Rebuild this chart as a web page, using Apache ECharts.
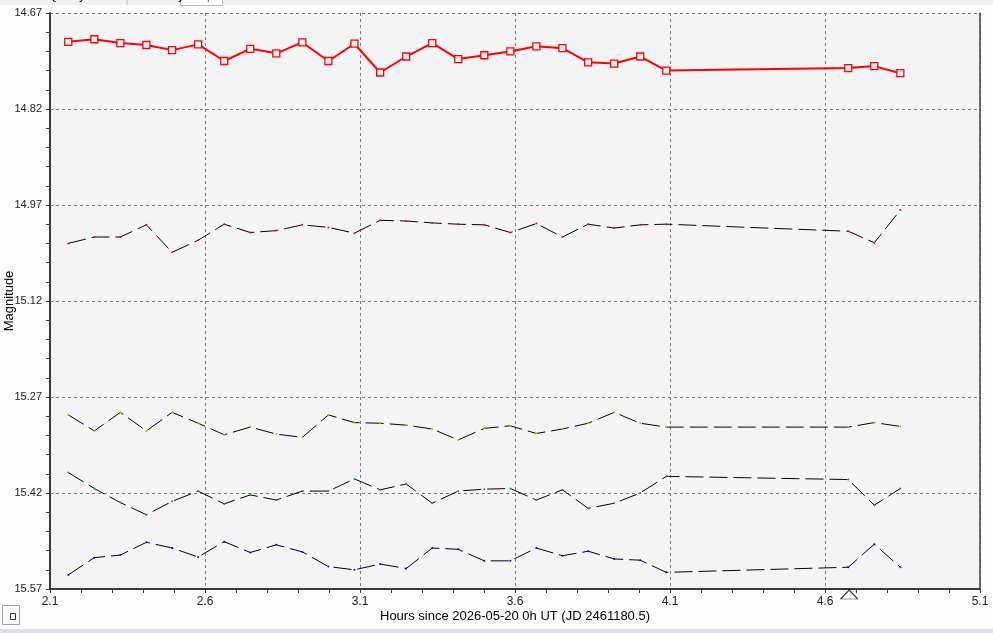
<!DOCTYPE html>
<html>
<head>
<meta charset="utf-8">
<script src="https://cdn.jsdelivr.net/npm/echarts@6/dist/echarts.min.js"></script>
<style>
html,body{margin:0;padding:0;background:#fcfcfc;}
#chart{width:993px;height:633px;}
</style>
</head>
<body>
<div id="chart"></div>
<script>
// Hours since 2026-05-20 0h UT
const times = [2.159, 2.243, 2.327, 2.411, 2.494, 2.578, 2.662, 2.746, 2.830, 2.914, 2.998, 3.082, 3.165, 3.249, 3.333, 3.417, 3.501, 3.585, 3.669, 3.753, 3.836, 3.920, 4.004, 4.088, 4.675, 4.759, 4.843];
// Target magnitudes (red)
const target = [14.715, 14.711, 14.717, 14.720, 14.728, 14.719, 14.745, 14.726, 14.733, 14.716, 14.745, 14.718, 14.763, 14.738, 14.717, 14.742, 14.736, 14.730, 14.722, 14.725, 14.747, 14.749, 14.738, 14.760, 14.756, 14.753, 14.764];
// Comparison / check star magnitudes
const comp1 = [15.030, 15.020, 15.020, 15.001, 15.044, 15.025, 15.000, 15.013, 15.010, 15.001, 15.005, 15.014, 14.994, 14.995, 14.998, 15.000, 15.001, 15.013, 14.999, 15.020, 15.000, 15.006, 15.001, 15.000, 15.011, 15.029, 14.978];
const comp2 = [15.298, 15.323, 15.294, 15.323, 15.294, 15.311, 15.329, 15.317, 15.328, 15.333, 15.298, 15.310, 15.311, 15.314, 15.320, 15.337, 15.319, 15.315, 15.327, 15.320, 15.311, 15.294, 15.311, 15.317, 15.317, 15.310, 15.316];
const comp3 = [15.388, 15.413, 15.435, 15.454, 15.433, 15.417, 15.437, 15.423, 15.431, 15.417, 15.417, 15.398, 15.415, 15.406, 15.436, 15.417, 15.414, 15.413, 15.431, 15.415, 15.444, 15.436, 15.420, 15.394, 15.399, 15.439, 15.413];
const comp4 = [15.548, 15.521, 15.517, 15.497, 15.506, 15.520, 15.496, 15.513, 15.501, 15.512, 15.535, 15.540, 15.531, 15.538, 15.506, 15.508, 15.526, 15.526, 15.506, 15.518, 15.511, 15.523, 15.525, 15.544, 15.536, 15.500, 15.536];
// Marker time (triangle under the axis)
const markerTimes = [4.678];

const xTicks = {min: 2.1, max: 5.1, interval: 0.5};
const yTicks = {min: 14.67, max: 15.57, interval: 0.15};
const xName = 'Hours since 2026-05-20 0h UT (JD 2461180.5)';
const yName = 'Magnitude';
const tabs = ['Select', 'Quality', 'Filter', 'Summary', 'Graph'];

const pair = arr => times.map((t, i) => [t, arr[i]]);

const FONT = 'Liberation Sans, Arial, sans-serif';
const compSeries = (data, dot) => ({
  type: 'line', data: pair(data), symbol: 'circle', symbolSize: 2,
  itemStyle: {color: dot}, lineStyle: {color: '#000', width: 1, type: [18, 6]},
  z: 2, animation: false
});

const chart = echarts.init(document.getElementById('chart'));
chart.setOption({
  backgroundColor: '#fcfcfc',
  animation: false,
  textStyle: {fontFamily: FONT},
  grid: {left: 50, right: 13, top: 13, bottom: 44, show: true, backgroundColor: '#f4f4f4', borderWidth: 0, containLabel: false, outerBoundsMode: 'none'},
  xAxis: {
    type: 'value', min: xTicks.min, max: xTicks.max, interval: xTicks.interval,
    name: xName, nameLocation: 'middle', nameGap: 21, nameMoveOverlap: false,
    nameTextStyle: {fontSize: 13, color: '#000', fontFamily: FONT},
    axisLine: {lineStyle: {color: '#3a3a3a', width: 2}},
    axisTick: {length: 4, lineStyle: {color: '#3a3a3a'}},
    minorTick: {show: true, splitNumber: 5, length: 4, lineStyle: {color: '#3a3a3a'}},
    axisLabel: {fontSize: 12, color: '#222', margin: 7, formatter: v => v.toFixed(1), fontFamily: FONT},
    splitLine: {show: true, lineStyle: {color: '#777', type: [3, 3], width: 1}}
  },
  yAxis: [{
    type: 'value', inverse: true, min: yTicks.min, max: yTicks.max, interval: yTicks.interval,
    name: yName, nameLocation: 'middle', nameGap: 34, nameMoveOverlap: false,
    nameTextStyle: {fontSize: 13, color: '#000', fontFamily: FONT},
    axisLine: {show: true, lineStyle: {color: '#3a3a3a', width: 2}},
    axisTick: {show: true, length: 4, lineStyle: {color: '#3a3a3a'}},
    minorTick: {show: true, splitNumber: 5, length: 4, lineStyle: {color: '#3a3a3a'}},
    axisLabel: {fontSize: 11, color: '#222', margin: 8, formatter: v => v.toFixed(2), fontFamily: FONT},
    splitLine: {show: true, lineStyle: {color: '#777', type: [3, 3], width: 1}}
  }, {
    type: 'value', inverse: true, position: 'right', min: yTicks.min, max: yTicks.max, interval: yTicks.interval,
    axisLine: {show: true, lineStyle: {color: '#444', width: 1.5}},
    axisTick: {show: false}, axisLabel: {show: false}, splitLine: {show: false}
  }],
  series: [
    compSeries(comp1, '#ff0000'),
    compSeries(comp2, '#b8b800'),
    compSeries(comp3, '#00b000'),
    compSeries(comp4, '#0000ff'),
    {
      type: 'line', data: pair(target), symbol: 'rect', symbolSize: 7,
      itemStyle: {color: '#f4f4f4', borderColor: '#ff0000', borderWidth: 1.3},
      lineStyle: {color: '#ff0000', width: 2}, z: 3
    },
    {
      type: 'scatter', data: markerTimes.map(t => [t, yTicks.max]), symbol: 'triangle',
      symbolSize: [17, 9], symbolOffset: [0, 5.5], clip: false,
      itemStyle: {color: '#fcfcfc', borderColor: '#000', borderWidth: 1}, z: 5
    }
  ],
  graphic: [
    {type: 'rect', left: 0, top: 0, shape: {width: 993, height: 5}, style: {fill: '#f0f0f0'}, silent: true},
    {type: 'rect', left: 180, top: -2, shape: {width: 42, height: 7}, style: {fill: '#ffffff', stroke: '#b8b8b8', lineWidth: 1}},
    {type: 'line', shape: {x1: 127, y1: 0, x2: 127, y2: 5}, style: {stroke: '#b8b8b8'}},
    {type: 'text', left: 0, top: -10, style: {text: tabs[0], fontSize: 12, fill: '#000', fontFamily: FONT}},
    {type: 'text', left: 48, top: -10, style: {text: tabs[1], fontSize: 12, fill: '#000', fontFamily: FONT}},
    {type: 'text', left: 93, top: -10, style: {text: tabs[2], fontSize: 12, fill: '#000', fontFamily: FONT}},
    {type: 'text', left: 133, top: -10, style: {text: tabs[3], fontSize: 12, fill: '#000', fontFamily: FONT}},
    {type: 'text', left: 187, top: -10, style: {text: tabs[4], fontSize: 12, fill: '#1a6ad0', fontFamily: FONT}},
    {type: 'rect', left: 2, top: 605, shape: {width: 17, height: 19}, style: {fill: '#fcfcfc', stroke: '#a0a0a0', lineWidth: 1}},
    {type: 'rect', left: 8, top: 611, shape: {width: 5, height: 6}, style: {fill: 'none', stroke: '#333', lineWidth: 1}},
    {type: 'rect', left: 0, top: 629, shape: {width: 993, height: 4}, style: {fill: '#dedee8'}}
  ]
});
</script>
</body>
</html>
